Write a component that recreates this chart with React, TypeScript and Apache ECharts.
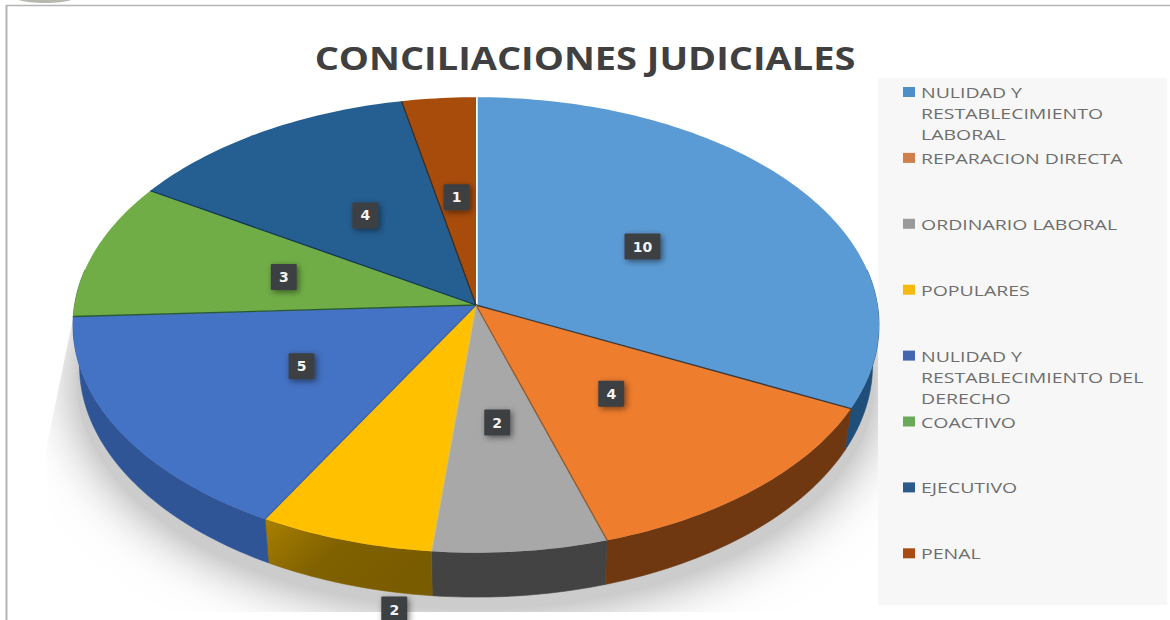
import React, { useEffect, useRef } from "react";
import * as echarts from "echarts";

const categories = [
  "NULIDAD Y\nRESTABLECIMIENTO\nLABORAL",
  "REPARACION DIRECTA",
  "ORDINARIO LABORAL",
  "POPULARES",
  "NULIDAD Y\nRESTABLECIMIENTO DEL\nDERECHO",
  "COACTIVO",
  "EJECUTIVO",
  "PENAL",
];
const values = [10, 4, 2, 2, 5, 3, 4, 1];
const titleText = "CONCILIACIONES JUDICIALES";

const topColors = ["#5b9bd5", "#ef7d2e", "#a8a8a8", "#ffc000", "#4472c4", "#70ad47", "#255e91", "#a84c0c"];
const wallColors = ["#1f4e79", "#6f3810", "#434343", "#7f6000", "#2f5597", "#436a2b", "#163a58", "#5f2b08"];
const edgeColors = ["#ffffff", "#3c3a3c", "#8a5a30", "#d8c060", "#3f62a0", "#2c5a30", "#123650", "#3a2a20"];
const legendColors = ["#4f8fc8", "#cf7f4a", "#9a9a9a", "#f5b90f", "#4466b0", "#6aa85a", "#2c5a8c", "#a84c14"];

const CX = 476;
const CY = 305;
const RX = 401.5;
const RY = 226;
const K = 0.0877;
const WALL_CY = 345;
const WALL_RX = 395;
const WALL_RY = 230;
const SHADOW_CY = 362;
const SHADOW_RX = 398;
const SHADOW_RY = 226;

const total = values.reduce((a, b) => a + b, 0);
const cumulative = values.map((_, i) => values.slice(0, i).reduce((a, b) => a + b, 0));
const seriesData = values.map((v, i) => ({ name: categories[i].replace(/\n/g, " "), value: [v, cumulative[i], i] }));

const project = (a: number, f: number, cy = CY, rx = RX, ry = RY) => {
  const s = Math.sin(a) * f;
  const c = Math.cos(a) * f;
  const w = 1 + K * c;
  return [CX + (rx * s) / w, cy - (ry * c) / w];
};
const arc = (a0: number, a1: number, cy?: number, rx?: number, ry?: number) => {
  const n = Math.max(2, Math.ceil(Math.abs(a1 - a0) / 0.02));
  const pts: number[][] = [];
  for (let j = 0; j <= n; j++) pts.push(project(a0 + ((a1 - a0) * j) / n, 1, cy, rx, ry));
  return pts;
};
const angles = (api: any) => {
  const v = api.value(0);
  const c = api.value(1);
  return [(c / total) * Math.PI * 2, ((c + v) / total) * Math.PI * 2, api.value(2)];
};

const renderWall = (_: any, api: any) => {
  const [a0, a1, i] = angles(api);
  const from = Math.max(a0, Math.PI * 0.45);
  const to = Math.min(a1, Math.PI * 1.55);
  if (to <= from) return { type: "group", children: [] };
  const fill =
    i === 3
      ? new echarts.graphic.LinearGradient(0, 0, 1, 0.5, [
          { offset: 0, color: "#a98000" },
          { offset: 0.5, color: "#806100" },
          { offset: 1, color: "#7a5c00" },
        ])
      : wallColors[i];
  const pts = arc(from, to).concat(arc(to, from, WALL_CY, WALL_RX, WALL_RY));
  return { type: "polygon", shape: { points: pts }, style: { fill, stroke: wallColors[i], lineWidth: 0.6 } };
};

const renderTop = (_: any, api: any) => {
  const [a0, a1, i] = angles(api);
  const pts = [[CX, CY]].concat(arc(a0, a1));
  const rim = project(a0, 1);
  return {
    type: "group",
    children: [
      { type: "polygon", shape: { points: pts }, style: { fill: topColors[i] } },
      {
        type: "line",
        shape: { x1: CX, y1: CY, x2: rim[0], y2: rim[1] },
        style: { stroke: edgeColors[i], lineWidth: i === 0 ? 3.5 : 1.3 },
      },
    ],
  };
};

const outsideLabel = { index: 3, dx: -19, dy: 192 };

const renderLabel = (_: any, api: any) => {
  const [a0, a1, i] = angles(api);
  const p = project((a0 + a1) / 2, 0.5);
  let x = p[0];
  let y = p[1];
  if (i === outsideLabel.index) {
    x += outsideLabel.dx;
    y += outsideLabel.dy;
  }
  const str = String(api.value(0));
  const w = 16 + str.length * 10;
  const h = 26;
  return {
    type: "group",
    children: [
      {
        type: "rect",
        shape: { x: x - w / 2, y: y - h / 2, width: w, height: h, r: 1 },
        style: { fill: "#3d3f42", shadowBlur: 6, shadowColor: "rgba(0,0,0,0.5)", shadowOffsetX: 2, shadowOffsetY: 2 },
      },
      {
        type: "text",
        x,
        y,
        style: {
          text: str,
          fill: "#f4f4f4",
          font: "bold 14px 'DejaVu Sans'",
          align: "center",
          verticalAlign: "middle",
        },
      },
    ],
  };
};

const renderShadow = () => {
  const pts = arc(0, Math.PI * 2 - 0.01, SHADOW_CY, SHADOW_RX, SHADOW_RY);
  return {
    type: "polygon",
    shape: { points: pts },
    style: { fill: "#cccccc", shadowBlur: 56, shadowColor: "#9a9a9a" },
    clipPath: {
      type: "polygon",
      shape: { points: [[73, 318], [878, 318], [878, 612], [48, 612], [46, 450]] },
    },
  };
};

const legendStep = 65.9;
const legendTop = 92;
const legendLine = 21;

const legendGraphics = () => {
  const out: any[] = [
    { type: "rect", z: 1, shape: { x: 878, y: 78, width: 289, height: 527 }, style: { fill: "#f7f7f7" } },
  ];
  categories.forEach((name, i) => {
    const y = legendTop + legendStep * i;
    out.push({ type: "rect", z: 5, shape: { x: 903, y: y - 5, width: 12, height: 10 }, style: { fill: legendColors[i] } });
    name.split("\n").forEach((line, j) => {
      out.push({
        type: "text",
        z: 5,
        x: 921,
        y: y + j * legendLine,
        scaleX: 1.3,
        style: { text: line, fill: "#6e6e6e", font: "15px 'Open Sans'", verticalAlign: "middle" },
      });
    });
  });
  return out;
};

export default function App() {
  const ref = useRef<HTMLDivElement>(null);
  useEffect(() => {
    const chart = echarts.init(ref.current!, null, { renderer: "svg" });
    chart.setOption({
      animation: false,
      backgroundColor: "#ffffff",
      tooltip: { show: false },
      graphic: [
        { type: "line", z: 1, shape: { x1: 6.5, y1: 5, x2: 6.5, y2: 620 }, style: { stroke: "#b4b4b4", lineWidth: 2 } },
        { type: "line", z: 1, shape: { x1: 6, y1: 5.5, x2: 1170, y2: 5.5 }, style: { stroke: "#b4b4b4", lineWidth: 1.5 } },
        { type: "ellipse", z: 1, shape: { cx: 45, cy: -4, rx: 32, ry: 7 }, style: { fill: "#b8b8b0" } },
        {
          type: "text",
          z: 5,
          x: 585,
          y: 57,
          scaleX: 1.187,
          style: {
            text: titleText,
            fill: "#404040",
            font: "bold 32px 'Open Sans'",
            align: "center",
            verticalAlign: "middle",
          },
        },
        ...legendGraphics(),
      ],
      series: [
        { type: "custom", z: 2, coordinateSystem: "none", silent: true, renderItem: (p: any) => (p.dataIndex === 0 ? renderShadow() : null), data: seriesData },
        { type: "custom", z: 3, coordinateSystem: "none", silent: true, renderItem: renderWall, data: seriesData },
        { type: "custom", z: 4, coordinateSystem: "none", silent: true, renderItem: renderTop, data: seriesData },
        { type: "custom", z: 6, coordinateSystem: "none", silent: true, renderItem: renderLabel, data: seriesData },
      ],
    });
    return () => chart.dispose();
  }, []);
  return <div ref={ref} style={{ position: "absolute", left: 0, top: 0, width: 1170, height: 620 }} />;
}
